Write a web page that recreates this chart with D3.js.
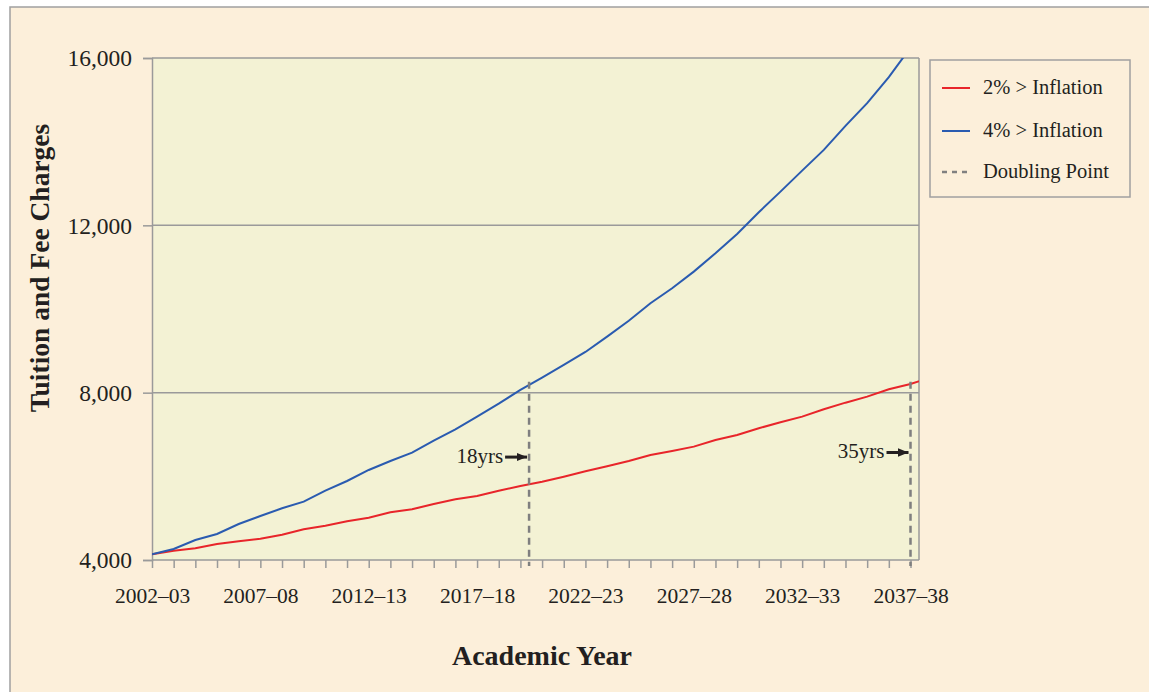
<!DOCTYPE html>
<html>
<head>
<meta charset="utf-8">
<script src="https://cdn.jsdelivr.net/npm/d3@7"></script>
<style>
  body { margin: 0; background: #fff; }
  text { font-family: "Liberation Serif", "DejaVu Serif", serif; fill: #231f20; }
</style>
</head>
<body>
<script>
// academic years, 2002-03 .. 2038-39 (last one runs past the plot edge and gets clipped)
var years = d3.range(2002, 2039).map(function (y) {
    return y + "\u2013" + String((y + 1) % 100).padStart(2, "0");
});
var tickYears = ["2002\u201303", "2007\u201308", "2012\u201313", "2017\u201318",
                 "2022\u201323", "2027\u201328", "2032\u201333", "2037\u201338"];
var yTicks = [4000, 8000, 12000, 16000];

// tuition, one value per academic year
var twoPct = [4136, 4222, 4280, 4383, 4447, 4509, 4605, 4734, 4820, 4925,
              5011, 5140, 5212, 5339, 5451, 5530, 5657, 5769, 5872, 5992,
              6121, 6240, 6367, 6510, 6606, 6710, 6869, 6989, 7149, 7292,
              7427, 7603, 7761, 7905, 8082, 8208, 8370];
var fourPct = [4136, 4263, 4478, 4622, 4861, 5052, 5236, 5394, 5657, 5889,
               6152, 6367, 6566, 6853, 7124, 7427, 7738, 8065, 8360, 8662,
               8973, 9340, 9720, 10138, 10497, 10894, 11333, 11795, 12313, 12806,
               13308, 13803, 14377, 14920, 15541, 16250, 16900];

// doubling points: year index where the line reaches twice the start, and its label
var doubling = [
    {at: 17.4, label: "18yrs", val: 8240, labelVal: 6460},
    {at: 35,   label: "35yrs", val: 8240, labelVal: 6570}
];

var legendItems = [
    {name: "2% > Inflation", color: "#e8252a", dash: null},
    {name: "4% > Inflation", color: "#2a5bb0", dash: null},
    {name: "Doubling Point", color: "#808080", dash: "5,5"}
];

var svg = d3.select("body")
    .append("svg")
    .attr("width", 1149)
    .attr("height", 692)
    .style("display", "block");

// parchment panel
svg.append("rect")
    .attr("x", 10).attr("y", 7)
    .attr("width", 1160).attr("height", 700)
    .attr("fill", "#fcefda")
    .attr("stroke", "#a0a0a0")
    .attr("stroke-width", 1.5);

var pLeft = 152, pRight = 919, pTop = 58, pBottom = 560;

var x = d3.scaleLinear()
    .domain([0, 35])
    .range([pLeft, 910.5]);

var y = d3.scaleLinear()
    .domain([4000, 16000])
    .range([pBottom, pTop]);

svg.append("rect")
    .attr("x", pLeft).attr("y", pTop)
    .attr("width", pRight - pLeft).attr("height", pBottom - pTop)
    .attr("fill", "#f3f2d4");

svg.append("clipPath").attr("id", "plotclip")
    .append("rect")
    .attr("x", pLeft).attr("y", pTop)
    .attr("width", pRight - pLeft).attr("height", pBottom - pTop);

// gridlines
svg.append("g")
    .selectAll("line")
    .data(yTicks.slice(1))
    .enter()
    .append("line")
    .attr("x1", pLeft).attr("x2", pRight)
    .attr("y1", function (d) { return y(d); })
    .attr("y2", function (d) { return y(d); })
    .attr("stroke", "#9a9a9a")
    .attr("stroke-width", 1.5);

// right border
svg.append("line")
    .attr("x1", pRight).attr("x2", pRight)
    .attr("y1", pTop).attr("y2", pBottom)
    .attr("stroke", "#9a9a9a")
    .attr("stroke-width", 1.5);

var yAxis = d3.axisLeft(y)
    .tickValues(yTicks)
    .tickSize(9)
    .tickPadding(11)
    .tickFormat(d3.format(",d"));

var gy = svg.append("g")
    .attr("transform", "translate(" + pLeft + ",0)")
    .call(yAxis);
gy.select(".domain").attr("stroke", "#9a9a9a").attr("stroke-width", 1.5);
gy.selectAll(".tick line").attr("stroke", "#9a9a9a").attr("stroke-width", 1.5);
gy.selectAll("text")
    .style("font-family", "Liberation Serif")
    .style("font-size", "23.5px")
    .attr("fill", "#231f20")
    .attr("dy", "0.33em");

var xAxis = d3.axisBottom(x)
    .tickValues(d3.range(0, 36))
    .tickSize(8)
    .tickPadding(12)
    .tickFormat(function (i) {
        return tickYears.indexOf(years[i]) >= 0 ? years[i] : "";
    });

var gx = svg.append("g")
    .attr("transform", "translate(0," + pBottom + ")")
    .call(xAxis);
gx.select(".domain").attr("d", "M" + pLeft + ",0H" + pRight)
    .attr("stroke", "#9a9a9a").attr("stroke-width", 1.5);
gx.selectAll(".tick line").attr("stroke", "#9a9a9a").attr("stroke-width", 1.5);
gx.selectAll("text")
    .style("font-family", "Liberation Serif")
    .style("font-size", "21.5px")
    .attr("fill", "#231f20")
    .attr("dy", "1.05em");

var line = d3.line()
    .x(function (d, i) { return x(i); })
    .y(function (d) { return y(d); });

var lines = svg.append("g").attr("clip-path", "url(#plotclip)");

lines.append("path")
    .datum(twoPct)
    .attr("d", line)
    .attr("fill", "none")
    .attr("stroke", legendItems[0].color)
    .attr("stroke-width", 2);

lines.append("path")
    .datum(fourPct)
    .attr("d", line)
    .attr("fill", "none")
    .attr("stroke", legendItems[1].color)
    .attr("stroke-width", 2);

// doubling markers
svg.append("defs").append("marker")
    .attr("id", "arrow")
    .attr("viewBox", "0 0 10 10")
    .attr("refX", 10).attr("refY", 5)
    .attr("markerWidth", 3.5).attr("markerHeight", 3.5)
    .attr("orient", "auto")
    .append("path")
    .attr("d", "M0,1L10,5L0,9Z")
    .attr("fill", "#231f20");

var dp = svg.append("g");
dp.selectAll(".dbl")
    .data(doubling)
    .enter()
    .append("line")
    .attr("class", "dbl")
    .attr("x1", function (d) { return x(d.at); })
    .attr("x2", function (d) { return x(d.at); })
    .attr("y1", function (d) { return y(d.val) - 1; })
    .attr("y2", pBottom + 6)
    .attr("stroke", "#7f7f7f")
    .attr("stroke-width", 2.5)
    .attr("stroke-dasharray", "7,5");

dp.selectAll(".arr")
    .data(doubling)
    .enter()
    .append("line")
    .attr("class", "arr")
    .attr("x1", function (d) { return x(d.at) - 24; })
    .attr("x2", function (d) { return x(d.at) - 2; })
    .attr("y1", function (d) { return y(d.labelVal); })
    .attr("y2", function (d) { return y(d.labelVal); })
    .attr("stroke", "#231f20")
    .attr("stroke-width", 3)
    .attr("marker-end", "url(#arrow)");

dp.selectAll(".lbl")
    .data(doubling)
    .enter()
    .append("text")
    .attr("class", "lbl")
    .attr("x", function (d) { return x(d.at) - 26; })
    .attr("y", function (d) { return y(d.labelVal) + 6; })
    .attr("text-anchor", "end")
    .style("font-size", "21px")
    .text(function (d) { return d.label; });

// legend
var lg = svg.append("g").attr("transform", "translate(930,60)");
lg.append("rect")
    .attr("width", 200).attr("height", 137)
    .attr("fill", "#fcefda")
    .attr("stroke", "#a0a0a0")
    .attr("stroke-width", 1.5);

var li = lg.selectAll(".item")
    .data(legendItems)
    .enter()
    .append("g")
    .attr("class", "item")
    .attr("transform", function (d, i) { return "translate(0," + [28, 71, 112][i] + ")"; });

li.append("line")
    .attr("x1", 12).attr("x2", 40)
    .attr("stroke", function (d) { return d.color; })
    .attr("stroke-width", function (d) { return d.dash ? 2.5 : 2; })
    .attr("stroke-dasharray", function (d) { return d.dash; });

li.append("text")
    .attr("x", 53)
    .attr("y", 6)
    .style("font-size", "20.5px")
    .text(function (d) { return d.name; });

// axis titles
svg.append("text")
    .attr("x", 542)
    .attr("y", 665)
    .attr("text-anchor", "middle")
    .style("font-size", "28px")
    .style("font-weight", "bold")
    .text("Academic Year");

svg.append("text")
    .attr("transform", "translate(49,268) rotate(-90)")
    .attr("text-anchor", "middle")
    .style("font-size", "27.5px")
    .style("font-weight", "bold")
    .text("Tuition and Fee Charges");
</script>
</body>
</html>
